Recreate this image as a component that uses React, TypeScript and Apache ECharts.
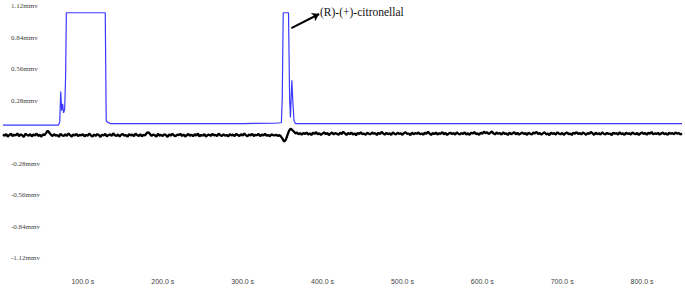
import React, { useEffect, useRef } from "react";
import * as echarts from "echarts";

// Y tick labels (mmv) and X tick labels (s)
const yMin = -1.12;
const yMax = 1.12;
const yStep = 0.28;
const xMin = 0;
const xMax = 850;
const xStep = 100;

// Blue trace (signal) : time (s) and value (mmv)
const blueTimes = [0, 69.5, 71, 72.3, 73.4, 74.6, 75.8, 77.2, 78.4, 79.3, 128, 129.2, 130.5, 134, 200, 300, 340, 348.5, 349.6, 350.8, 357.4, 358.8, 359.8, 361.6, 362.6, 364.3, 366, 850];
const blueValues = [0.062, 0.062, 0.09, 0.36, 0.19, 0.25, 0.17, 0.2, 0.5, 1.06, 1.06, 0.1, 0.09, 0.075, 0.075, 0.075, 0.078, 0.082, 0.3, 1.06, 1.06, 0.3, 0.13, 0.46, 0.3, 0.1, 0.075, 0.075];

// Black trace (detector noise), sampled every 2 s starting at 0 s
const noiseStart = 0;
const noiseStep = 2;
const noiseValues = [
  -0.022, -0.034, -0.018, -0.041, -0.027, -0.015, -0.036, -0.024, -0.030, -0.012,
  -0.038, -0.021, -0.029, -0.044, -0.016, -0.026, -0.033, -0.019, -0.039, -0.023,
  -0.031, -0.014, -0.035, -0.025, -0.042, -0.020, -0.028, -0.008, 0.012, -0.006,
  -0.024, -0.037, -0.019, -0.032, -0.027, -0.043, -0.017, -0.029, -0.036, -0.021,
  -0.034, -0.013, -0.028, -0.040, -0.023, -0.031, -0.016, -0.037, -0.025, -0.030,
  -0.018, -0.039, -0.026, -0.033, -0.014, -0.029, -0.041, -0.022, -0.035, -0.019,
  -0.027, -0.044, -0.024, -0.032, -0.016, -0.038, -0.028, -0.020, -0.034, -0.012,
  -0.029, -0.036, -0.021, -0.040, -0.025, -0.017, -0.033, -0.026, -0.042, -0.019,
  -0.031, -0.023, -0.037, -0.015, -0.028, -0.034, -0.020, -0.039, -0.024, -0.030,
  -0.008, -0.002, -0.018, -0.035, -0.022, -0.029, -0.041, -0.017, -0.032, -0.025,
  -0.036, -0.019, -0.028, -0.043, -0.021, -0.033, -0.015, -0.030, -0.038, -0.024,
  -0.027, -0.016, -0.035, -0.022, -0.040, -0.029, -0.018, -0.034, -0.025, -0.037,
  -0.020, -0.031, -0.014, -0.039, -0.026, -0.033, -0.019, -0.042, -0.028, -0.022,
  -0.035, -0.017, -0.030, -0.024, -0.038, -0.013, -0.029, -0.036, -0.021, -0.033,
  -0.026, -0.040, -0.018, -0.031, -0.023, -0.037, -0.016, -0.028, -0.034, -0.020,
  -0.032, -0.014, -0.027, -0.039, -0.022, -0.030, -0.017, -0.035, -0.025, -0.029,
  -0.018, -0.036, -0.023, -0.031, -0.015, -0.033, -0.026, -0.038, -0.021, -0.028,
  -0.030, -0.024, -0.034, -0.028, -0.040, -0.062, -0.085, -0.070, -0.030, 0.010,
  0.030, 0.018, 0.004, -0.012, -0.006, -0.020, -0.010, -0.024, -0.008, -0.018,
  -0.004, -0.022, -0.012, -0.027, -0.007, -0.017, -0.001, -0.020, -0.011, -0.025,
  -0.014, -0.003, -0.019, -0.009, -0.028, -0.013, -0.005, -0.021, -0.010, -0.016,
  -0.024, -0.006, -0.018, 0.002, -0.013, -0.026, -0.009, -0.019, -0.004, -0.022,
  -0.012, -0.029, -0.008, -0.017, -0.002, -0.020, -0.014, -0.025, -0.006, -0.015,
  -0.021, -0.003, -0.016, -0.010, -0.027, -0.007, -0.018, 0.001, -0.013, -0.023,
  -0.008, -0.019, -0.012, -0.026, -0.004, -0.015, -0.022, -0.006, -0.017, -0.011,
  -0.025, -0.009, -0.002, -0.018, -0.013, -0.028, -0.005, -0.020, -0.010, -0.016,
  -0.003, -0.021, -0.012, -0.024, -0.007, -0.017, 0.003, -0.014, -0.026, -0.009,
  -0.019, -0.005, -0.023, -0.011, -0.016, -0.001, -0.020, -0.008, -0.027, -0.013,
  -0.006, -0.018, -0.010, -0.024, -0.003, -0.015, -0.021, -0.009, -0.017, -0.004,
  -0.022, -0.011, -0.026, -0.007, -0.014, 0.000, -0.019, -0.012, -0.025, -0.006,
  -0.016, 0.004, -0.010, -0.002, -0.018, -0.008, 0.006, -0.013, -0.021, -0.005,
  -0.015, -0.009, -0.024, -0.003, -0.017, -0.011, -0.027, -0.006, -0.019, -0.012,
  -0.001, -0.020, -0.008, -0.023, -0.014, -0.004, -0.018, -0.010, -0.026, -0.007,
  -0.016, -0.022, -0.005, -0.013, 0.002, -0.019, -0.009, -0.024, -0.011, -0.003,
  -0.021, -0.014, -0.028, -0.006, -0.017, -0.010, -0.023, -0.002, -0.015, -0.020,
  -0.008, -0.025, -0.012, -0.004, -0.019, -0.013, -0.027, -0.007, -0.016, -0.001,
  -0.018, -0.010, -0.022, -0.005, -0.014, -0.024, -0.009, -0.017, 0.001, -0.012,
  -0.026, -0.006, -0.019, -0.011, -0.023, -0.003, -0.015, -0.021, -0.008, -0.018,
  -0.013, -0.028, -0.005, -0.016, -0.010, -0.024, -0.002, -0.019, -0.012, -0.025,
  -0.007, -0.017, -0.011, -0.022, -0.004, -0.014, -0.020, -0.009, -0.026, -0.013,
  -0.003, -0.018, -0.010, -0.024, -0.006, -0.015, 0.000, -0.021, -0.012, -0.017,
  -0.008, -0.023, -0.014, -0.005, -0.019, -0.011, -0.026, -0.007, -0.016, -0.010,
  -0.020, -0.004, -0.015, -0.009, -0.022, -0.012,
];

// Annotation
const annotationText = "(R)-(+)-citronellal";
const arrowFrom = [361, 0.924];
const arrowTo = [395.8, 1.049];

export default function App() {
  const ref = useRef<HTMLDivElement>(null);
  useEffect(() => {
    if (!ref.current) return;
    const chart = echarts.init(ref.current, undefined, { renderer: "svg" });
    const blueData = blueTimes.map((t, i) => [t, blueValues[i]]);
    const noiseData = noiseValues.map((v, i) => [noiseStart + i * noiseStep, v]);
    chart.setOption({
      animation: false,
      backgroundColor: "#ffffff",
      grid: { left: -1, right: 1, top: 6, bottom: 33, containLabel: false },
      xAxis: {
        type: "value",
        min: xMin,
        max: xMax,
        interval: xStep,
        axisLine: { show: false },
        axisTick: { show: false },
        splitLine: { show: false },
        axisLabel: {
          margin: 20,
          fontFamily: "Liberation Sans Narrow, Liberation Sans, Arial",
          fontSize: 7,
          color: "#444",
          formatter: (v: number) => (v === 0 || v % 100 !== 0 ? "" : v.toFixed(1) + " s"),
        },
      },
      yAxis: {
        type: "value",
        min: yMin,
        max: yMax,
        interval: yStep,
        axisLine: { show: false },
        axisTick: { show: false },
        splitLine: { show: false },
        axisLabel: {
          inside: true,
          margin: 8,
          fontFamily: "Liberation Serif, Times New Roman, serif",
          fontSize: 7,
          color: "#444",
          formatter: (v: number) => (Math.abs(v) < 1e-6 ? "" : v.toFixed(2) + "mmv"),
        },
      },
      series: [
        {
          type: "line",
          data: noiseData,
          symbol: "none",
          lineStyle: { color: "#000000", width: 2.3 },
          z: 2,
        },
        {
          type: "line",
          data: blueData,
          symbol: "none",
          lineStyle: { color: "#3a3aff", width: 1.2 },
          z: 3,
          markLine: {
            silent: true,
            symbol: ["none", "arrow"],
            symbolSize: 7,
            label: { show: false },
            lineStyle: { color: "#000", width: 2, type: "solid" },
            data: [[{ coord: arrowFrom }, { coord: arrowTo }]],
          },
        },
      ],
      graphic: [
        {
          type: "text",
          left: 320,
          top: 6,
          style: {
            text: annotationText,
            fontFamily: "Liberation Serif, Times New Roman, serif",
            fontSize: 11.5,
            fill: "#111",
          },
        },
      ],
    });
    return () => chart.dispose();
  }, []);
  return (
    <div
      ref={ref}
      style={{ position: "fixed", left: 0, top: 0, width: 685, height: 291 }}
    />
  );
}
